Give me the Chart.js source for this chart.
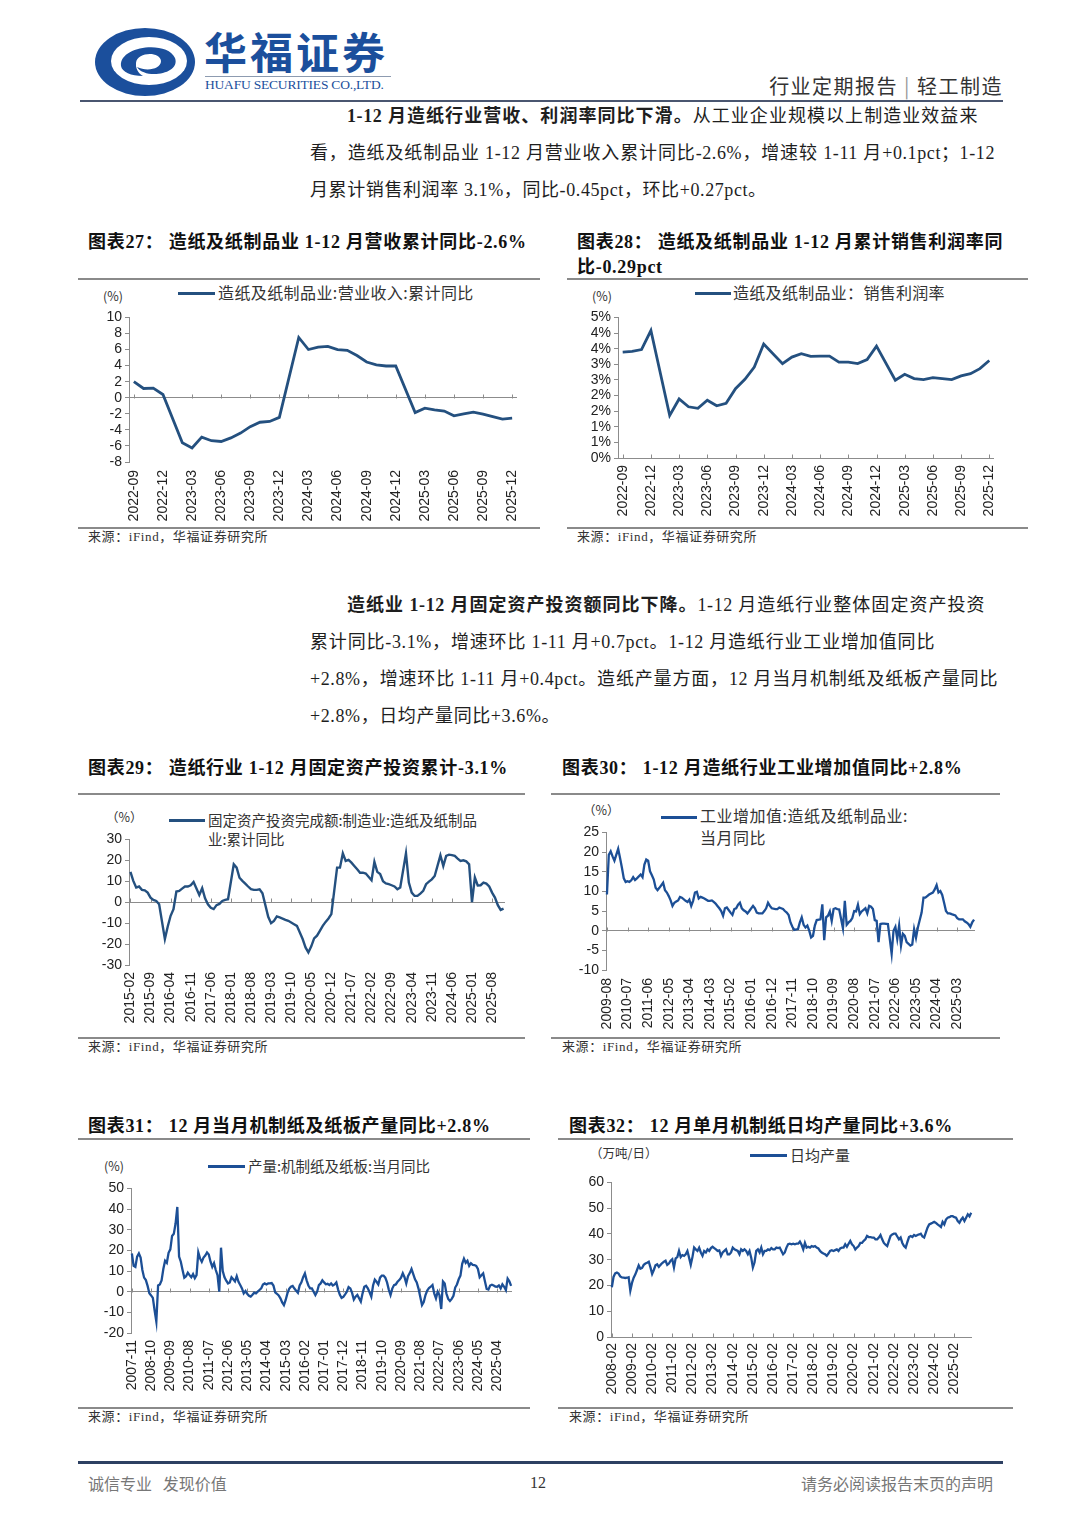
<!DOCTYPE html>
<html>
<head>
<meta charset="utf-8">
<script src="https://cdn.jsdelivr.net/npm/chart.js@4.4.1/dist/chart.umd.min.js"></script>
<style>
  html, body { margin: 0; padding: 0; background: #fff; }
  #page { position: relative; width: 1080px; height: 1527px; overflow: hidden; background: #fff;
          font-family: "Liberation Serif", "Noto Sans CJK SC", serif; color: #222; }
  .t { position: absolute; white-space: nowrap; }
  .para { position: absolute; font-size: 18px; line-height: 24px; letter-spacing: 0.6px; color: #1e1e1e; white-space: nowrap; }
  .just { text-align: justify; text-align-last: justify; white-space: normal; }
  .title { position: absolute; font-size: 18px; line-height: 24px; letter-spacing: 0.7px; font-weight: bold; color: #111; white-space: nowrap; }
  .rule { position: absolute; height: 1.5px; background: #8a8a8a; }
  .src { position: absolute; font-size: 13px; line-height: 16px; letter-spacing: 0.6px; color: #333; white-space: nowrap; }
  .leg { position: absolute; font-family: "Noto Sans CJK SC", sans-serif; font-size: 14.5px; line-height: 20px; color: #333; white-space: nowrap; }
  .unit { position: absolute; font-family: "Noto Sans CJK SC", sans-serif; font-size: 12.5px; line-height: 16px; color: #333; white-space: nowrap; }
  .swatch { position: absolute; height: 2.5px; }
  .box { position: absolute; }
</style>
</head>
<body>
<div id="page">
  <!-- header -->
  <svg class="box" style="left:93px;top:26px" width="106" height="72" viewBox="0 0 106 72">
    <ellipse cx="52" cy="36" rx="50" ry="34" fill="#1b4f9c"/>
    <ellipse cx="56" cy="35" rx="38" ry="24" fill="#fff"/>
    <path d="M28 40 C26 20 74 14 82 32 C88 48 52 54 44 41 C54 46 68 43 68 35 C67 25 44 26 43 37 C42 46 50 50 50 50 C38 50 29 46 28 40 Z" fill="#1b4f9c"/>
  </svg>
  <div class="t" style="left:204px;top:24px;font-family:'Noto Sans CJK SC';font-weight:bold;font-size:43px;line-height:52px;letter-spacing:3px;color:#1b4f9c;">华福证券</div>
  <div class="box" style="left:205px;top:76px;width:186px;height:1px;background:#8d9bb0;"></div>
  <div class="t" style="left:205px;top:78px;font-size:13.5px;line-height:14px;letter-spacing:-0.2px;color:#1b4f9c;">HUAFU SECURITIES CO.,LTD.</div>
  <div class="t" style="right:77px;top:72px;font-family:'Noto Sans CJK SC';font-size:20px;line-height:28px;letter-spacing:1.5px;color:#333;">行业定期报告 <span style="color:#999">|</span> 轻工制造</div>
  <div class="box" style="left:80px;top:100px;width:923px;height:2px;background:#4a5670;"></div>

  <!-- paragraph 1 -->
  <div class="para just" style="left:347px;top:104px;width:631px;"><b>1-12 月造纸行业营收、利润率同比下滑。</b>从工业企业规模以上制造业效益来</div>
  <div class="para just" style="left:310px;top:141px;width:685px;">看，造纸及纸制品业 1-12 月营业收入累计同比-2.6%，增速较 1-11 月+0.1pct；1-12</div>
  <div class="para" style="left:310px;top:178px;">月累计销售利润率 3.1%，同比-0.45pct，环比+0.27pct。</div>

  <!-- row 1 titles -->
  <div class="title" style="left:88px;top:230px;">图表27：&nbsp;造纸及纸制品业 1-12 月营收累计同比-2.6%</div>
  <div class="title" style="left:577px;top:230px;">图表28：&nbsp;造纸及纸制品业 1-12 月累计销售利润率同</div>
  <div class="title" style="left:577px;top:255px;">比-0.29pct</div>
  <div class="rule" style="left:78px;top:278px;width:462px;"></div>
  <div class="rule" style="left:567px;top:278px;width:461px;"></div>
  <div class="rule" style="left:78px;top:527px;width:462px;"></div>
  <div class="rule" style="left:567px;top:527px;width:461px;"></div>
  <div class="src" style="left:88px;top:529px;">来源：iFind，华福证券研究所</div>
  <div class="src" style="left:577px;top:529px;">来源：iFind，华福证券研究所</div>

  <div class="unit" style="left:103px;top:288px;">(%)</div>
  <div class="swatch" style="left:178px;top:292px;width:37px;background:#24507f;"></div>
  <div class="leg" style="left:218px;top:282px;font-size:16px;letter-spacing:0.4px;">造纸及纸制品业:营业收入:累计同比</div>
  <div class="unit" style="left:592px;top:288px;">(%)</div>
  <div class="swatch" style="left:695px;top:292px;width:36px;background:#24507f;"></div>
  <div class="leg" style="left:733px;top:282px;font-size:16px;letter-spacing:0.3px;">造纸及纸制品业：销售利润率</div>

  <div class="box" style="left:80px;top:306px;width:460px;height:220px;"><canvas id="c27"></canvas></div>
  <div class="box" style="left:565px;top:306px;width:465px;height:217px;"><canvas id="c28"></canvas></div>

  <!-- paragraph 2 -->
  <div class="para just" style="left:347px;top:593px;width:638px;"><b>造纸业 1-12 月固定资产投资额同比下降。</b>1-12 月造纸行业整体固定资产投资</div>
  <div class="para just" style="left:310px;top:630px;width:625px;">累计同比-3.1%，增速环比 1-11 月+0.7pct。1-12 月造纸行业工业增加值同比</div>
  <div class="para just" style="left:310px;top:667px;width:688px;">+2.8%，增速环比 1-11 月+0.4pct。造纸产量方面，12 月当月机制纸及纸板产量同比</div>
  <div class="para" style="left:310px;top:704px;">+2.8%，日均产量同比+3.6%。</div>

  <!-- row 2 -->
  <div class="title" style="left:88px;top:756px;">图表29：&nbsp;造纸行业 1-12 月固定资产投资累计-3.1%</div>
  <div class="title" style="left:562px;top:756px;">图表30：&nbsp;1-12 月造纸行业工业增加值同比+2.8%</div>
  <div class="rule" style="left:78px;top:793px;width:447px;"></div>
  <div class="rule" style="left:551px;top:793px;width:449px;"></div>
  <div class="rule" style="left:78px;top:1037px;width:447px;"></div>
  <div class="rule" style="left:551px;top:1037px;width:449px;"></div>
  <div class="src" style="left:88px;top:1039px;">来源：iFind，华福证券研究所</div>
  <div class="src" style="left:562px;top:1039px;">来源：iFind，华福证券研究所</div>

  <div class="unit" style="left:106px;top:809px;">（%）</div>
  <div class="swatch" style="left:169px;top:819px;width:36px;background:#24507f;"></div>
  <div class="leg" style="left:208px;top:810px;">固定资产投资完成额:制造业:造纸及纸制品</div>
  <div class="leg" style="left:208px;top:829px;">业:累计同比</div>
  <div class="unit" style="left:583px;top:802px;">（%）</div>
  <div class="swatch" style="left:661px;top:816px;width:36px;background:#1c4f96;"></div>
  <div class="leg" style="left:700px;top:805px;font-size:16px;letter-spacing:0.5px;">工业增加值:造纸及纸制品业:</div>
  <div class="leg" style="left:700px;top:827px;font-size:16px;letter-spacing:0.5px;">当月同比</div>

  <div class="box" style="left:80px;top:828px;width:445px;height:202px;"><canvas id="c29"></canvas></div>
  <div class="box" style="left:550px;top:821px;width:450px;height:214px;"><canvas id="c30"></canvas></div>

  <!-- row 3 -->
  <div class="title" style="left:88px;top:1114px;">图表31：&nbsp;12 月当月机制纸及纸板产量同比+2.8%</div>
  <div class="title" style="left:569px;top:1114px;">图表32：&nbsp;12 月单月机制纸日均产量同比+3.6%</div>
  <div class="rule" style="left:78px;top:1138px;width:452px;"></div>
  <div class="rule" style="left:558px;top:1138px;width:455px;"></div>
  <div class="rule" style="left:78px;top:1407px;width:452px;"></div>
  <div class="rule" style="left:558px;top:1407px;width:455px;"></div>
  <div class="src" style="left:88px;top:1409px;">来源：iFind，华福证券研究所</div>
  <div class="src" style="left:569px;top:1409px;">来源：iFind，华福证券研究所</div>

  <div class="unit" style="left:104px;top:1158px;">(%)</div>
  <div class="swatch" style="left:208px;top:1165px;width:37px;background:#1c4f96;"></div>
  <div class="leg" style="left:248px;top:1156px;">产量:机制纸及纸板:当月同比</div>
  <div class="unit" style="left:590px;top:1145px;">（万吨/日）</div>
  <div class="swatch" style="left:750px;top:1154px;width:37px;background:#1c4f96;"></div>
  <div class="leg" style="left:790px;top:1145px;font-size:15px;">日均产量</div>

  <div class="box" style="left:80px;top:1177px;width:450px;height:219px;"><canvas id="c31"></canvas></div>
  <div class="box" style="left:558px;top:1171px;width:455px;height:229px;"><canvas id="c32"></canvas></div>

  <!-- footer -->
  <div class="box" style="left:78px;top:1461px;width:925px;height:3px;background:#2d4062;"></div>
  <div class="t" style="left:88px;top:1472px;font-family:'Noto Sans CJK SC';font-size:16px;line-height:22px;color:#777;">诚信专业&nbsp;&nbsp;&nbsp;发现价值</div>
  <div class="t" style="left:530px;top:1473px;font-size:16px;line-height:20px;color:#333;">12</div>
  <div class="t" style="right:87px;top:1472px;font-family:'Noto Sans CJK SC';font-size:16px;line-height:22px;color:#777;">请务必阅读报告末页的声明</div>
</div>

<script>
// month categories
function monthRange(start, end) {
  var p = start.split("-").map(Number), q = end.split("-").map(Number);
  var y = p[0], m = p[1], out = [];
  while (y < q[0] || (y === q[0] && m <= q[1])) {
    out.push(y + "-" + String(m).padStart(2, "0"));
    m++;
    if (m > 12) { m = 1; y++; }
  }
  return out;
}

// 图表27 营业收入累计同比 (%), 2022-09 ~ 2025-12
var cats27 = monthRange("2022-09", "2025-12");
var revenueYoY = [
  2.0, 1.15, 1.2, 0.4,
  null, -5.6, -6.25, -4.9, -5.35, -5.45, -5.0, -4.4, -3.6, -3.05, -2.95, -2.45,
  null, 7.5, 6.0, 6.3, 6.4, 6.0, 5.9, 5.25, 4.45, 4.1, 3.95, 3.95,
  null, -1.85, -1.3, -1.5, -1.65, -2.25, -2.0, -1.8, -2.05, -2.35, -2.65, -2.55
];
var ticks27 = ["2022-09", "2022-12", "2023-03", "2023-06", "2023-09", "2023-12", "2024-03",
  "2024-06", "2024-09", "2024-12", "2025-03", "2025-06", "2025-09", "2025-12"];

// 图表28 销售利润率 (%)
var profitRate = [
  3.39, 3.41, 3.47, 4.08,
  null, 1.36, 1.89, 1.64, 1.59, 1.85, 1.67, 1.75, 2.22, 2.52, 2.91, 3.65,
  null, 3.02, 3.23, 3.34, 3.25, 3.26, 3.26, 3.07, 3.07, 3.02, 3.15, 3.58,
  null, 2.49, 2.68, 2.54, 2.51, 2.57, 2.54, 2.51, 2.63, 2.70, 2.86, 3.12
];

// 图表29 固定资产投资累计同比 (%), 2015-02 ~ 2025-12
var cats29 = monthRange("2015-02", "2025-12");
var faiYoY = [
  14.5, 10.2, 7.0, 7.5, 5.9, 5.7, 4.6, 2.2, 1.1, 0.6, -1.0,
  null, -17.6, -11.6, -6.5, -3.3, 5.1, 5.4, 6.5, 7.5, 7.5, 8.1, 9.7,
  null, 3.5, 6.7, 1.9, -1.0, -2.7, -3.3, -1.4, -0.8, 0.6, 1.1, 1.4,
  null, 18.1, 16.5, 11.7, 10.2, 8.9, 7.5, 6.2, 5.9, 5.9, 6.2, 4.3,
  null, -7.0, -10.0, -8.9, -6.8, -7.3, -7.8, -8.4, -8.9, -9.7, -10.5, -11.3,
  null, -17.6, -21.6, -24.0, -21.1, -17.3, -16.0, -13.7, -11.3, -9.4, -7.8, -5.7,
  null, 16.5, 16.5, 23.3, 19.7, 20.2, 18.9, 17.3, 15.7, 14.1, 14.1, 13.7,
  null, 10.5, 19.3, 14.5, 13.5, 10.0, 9.0, 8.6, 8.1, 7.5, 6.2, 7.0,
  null, 23.3, 9.4, 4.6, 3.0, 3.0, 4.1, 5.4, 8.6, 9.8, 10.9, 12.5,
  null, 22.4, 17.3, 22.1, 22.7, 22.5, 22.1, 20.8, 19.7, 20.0, 19.5, 18.1,
  0, 11.8, 8.0, 8.1, 9.4, 8.9, 7.5, 4.6, 2.2, -1.4, -3.7, -3.1
];
var ticks29 = ["2015-02", "2015-09", "2016-04", "2016-11", "2017-06", "2018-01", "2018-08",
  "2019-03", "2019-10", "2020-05", "2020-12", "2021-07", "2022-02", "2022-09", "2023-04",
  "2023-11", "2024-06", "2025-01", "2025-08"];

// 图表30 工业增加值当月同比 (%), 2009-08 ~ 2025-12
var cats30 = monthRange("2009-08", "2025-12");
var vaYoY = [
  9.2, 19.3, 20.2, 18.9, 17.8,
  null, 20.8, 18.5, 16.0, 13.3, 12.4, 12.6, 12.4, 12.8, 13.6, 12.9, 13.3,
  null, 14.3, 13.6, 16.8, 18.1, 17.8, 15.1, 14.1, 13.0, 10.9, 10.3, 10.9,
  null, 12.2, 10.3, 9.7, 8.8, 7.7, 6.3, 7.1, 7.4, 7.7, 8.6, 8.4,
  null, 7.6, 7.3, 7.9, 6.3, 7.6, 9.7, 9.9, 8.2, 8.6, 8.4, 8.2,
  null, 7.6, 7.6, 7.7, 7.3, 6.9, 6.3, 5.7, 5.0, 3.8, 5.7, 5.9,
  null, 4.6, 4.0, 5.5, 5.7, 6.6, 7.1, 5.7, 5.2, 4.9, 4.4, 5.0,
  null, 6.3, 5.7, 4.6, 4.4, 4.4, 4.4, 5.0, 5.7, 7.1, 6.3, 5.7,
  null, 5.5, 5.5, 5.9, 5.7, 5.5, 5.0, 4.6, 4.0, 2.1, 1.0, 0.2,
  null, 0.4, 2.1, 3.4, 1.5, 0.8, 1.3, 0.0, -1.7, -1.3, 1.3, 2.7,
  null, 2.9, 6.7, -2.4, 3.4, 3.8, 4.9, 2.5, 5.5, 5.7, 5.5, 5.4,
  null, 0.6, 7.6, 1.5, 2.1, 2.5, 3.2, 5.0, 4.9, 6.6, 4.2, 4.9,
  null, 5.7, 4.4, 6.3, 6.1, 5.5, 2.7, 2.5, -2.9, 1.7, 1.8, 1.8,
  null, 1.7, -2.1, -5.9, 0.0, 1.0, -2.1, 1.3, -3.8, -0.8, -1.3, -2.9,
  null, -3.8, -3.5, 0.4, -1.8, 0.8, 2.7, 4.6, 8.4, 8.4, 8.8, 9.2,
  null, 9.7, 10.5, 11.6, 9.7, 10.1, 9.1, 7.1, 5.0, 4.4, 4.4, 4.2,
  null, 3.9, 3.2, 2.9, 2.9, 2.9, 2.4, 2.1, 1.7, 1.0, 2.1, 2.8
];
var ticks30 = ["2009-08", "2010-07", "2011-06", "2012-05", "2013-04", "2014-03", "2015-02",
  "2016-01", "2016-12", "2017-11", "2018-10", "2019-09", "2020-08", "2021-07", "2022-06",
  "2023-05", "2024-04", "2025-03"];

// 图表31 机制纸及纸板产量当月同比 (%), 2007-11 ~ 2025-12
var cats31 = monthRange("2007-11", "2025-12");
var outputYoY = [
  18.5, 12.5,
  12.0, 17.0, 18.5, 16.5, 10.5, 6.8, 5.6, 2.8, -0.8, -1.8, -3.0, -9.0,
  -14.5, 3.0, 3.5, 5.5, 11.0, 15.0, 14.0, 18.8, 20.5, 27.0, 28.0, 33.0,
  41.0, 17.0, 14.5, 10.5, 6.8, 7.5, 9.2, 8.0, 7.0, 8.5, 6.5, 8.0,
  19.0, 16.1, 14.5, 16.5, 17.5, 19.0, 18.0, 14.5, 12.0, 13.8, 10.5, 8.0,
  0.0, 21.3, 10.0, 7.0, 5.3, 4.0, 4.5, 7.0, 6.0, 5.0, 7.5, 4.8,
  3.2, 1.6, -0.8, 0.3, -1.0, -2.0, -2.4, -1.5, -0.5, -0.8, 0.0, 0.8,
  1.6, 3.5, 4.0, 3.5, 4.0, 4.0, 4.2, 3.0, -0.3, -1.0, -1.8, -3.2,
  -5.2, -6.5, -4.0, -0.8, 1.4, 2.4, 2.8, 1.5, 0.5, -0.5, 3.0, 4.5,
  7.0, 8.8, 5.5, 3.0, 1.6, 1.6, 0.0, -1.6, 0.0, 3.2, 4.0, 5.5,
  4.5, 3.6, 3.8, 3.2, 4.0, 3.0, 3.5, 4.5, 1.0, -1.5, -3.0, -2.5,
  -1.3, 0.0, 2.2, 1.6, -0.6, -3.8, -2.4, -1.6, -3.2, -4.8, -0.8, 2.4,
  2.9, 1.6, -0.3, -2.4, 3.0, 5.8, 4.8, 3.5, 6.8, 7.8, 7.8, 6.8,
  4.5, 1.0, -1.6, 1.5, 3.2, 3.5, 4.8, 5.6, 6.8, 8.9, 7.0, 4.0,
  7.5, 9.0, 11.0, 8.5, 6.0, 4.5, 1.5, -2.5, -6.5, -5.0, -1.6, 0.5,
  1.8, 2.4, 3.2, -0.8, -3.2, 0.0, -1.6, -8.4, 5.0, 4.0, -1.0, -3.5,
  -4.5, -3.5, -2.0, 2.0, 3.5, 6.0, 7.8, 13.5, 16.0, 14.0, 15.0, 12.5,
  13.8, 13.0, 12.9, 12.5, 11.0, 7.0, 8.0, 8.9, 5.0, 1.3, 1.0, 3.0,
  3.4, 3.0, 2.5, 2.4, 3.0, 1.6, 3.6, 2.4, 0.8, 6.3, 5.0, 2.8
];
var ticks31 = ["2007-11", "2008-10", "2009-09", "2010-08", "2011-07", "2012-06", "2013-05",
  "2014-04", "2015-03", "2016-02", "2017-01", "2017-12", "2018-11", "2019-10", "2020-09",
  "2021-08", "2022-07", "2023-06", "2024-05", "2025-04"];

// 图表32 机制纸日均产量 (万吨/日), 2008-02 ~ 2025-12
var cats32 = monthRange("2008-02", "2025-12");
var dailyOutput = [
  19.3, 23.3, 24.7, 25.0, 24.6, 23.5, 23.1, 23.0, 22.9, 23.0, 23.2,
  18.0, 21.0, 23.0, 24.3, 26.0, 27.8, 26.5, 26.8, 28.0, 28.5, 28.8, 29.2,
  27.0, 24.5, 26.0, 27.8, 28.2, 27.2, 28.0, 28.7, 29.2, 29.6, 28.0, 28.5,
  29.6, 30.2, 27.0, 30.5, 31.0, 33.4, 31.0, 31.8, 31.5, 32.1, 33.4, 30.8,
  28.0, 31.0, 34.7, 34.0, 33.4, 34.7, 32.8, 31.5, 33.4, 32.8, 34.0, 33.4,
  34.5, 35.0, 34.5, 34.0, 33.4, 33.6, 31.5, 32.8, 33.4, 34.0, 32.1, 32.1,
  32.8, 34.7, 34.0, 33.7, 33.4, 32.1, 34.0, 33.4, 34.0, 33.4, 32.1, 33.4,
  30.8, 27.0, 29.0, 33.4, 34.0, 32.8, 34.7, 32.1, 33.4, 33.4, 34.0, 33.7,
  34.5, 34.0, 34.0, 34.7, 34.5, 34.7, 33.4, 32.1, 32.8, 34.7, 36.0, 36.2,
  36.0, 36.2, 36.0, 36.2, 36.2, 37.0, 35.8, 34.0, 36.5, 34.7, 35.0, 34.7,
  35.3, 35.0, 35.3, 34.7, 34.4, 33.4, 32.8, 32.4, 32.1, 31.5, 32.4, 33.4,
  33.7, 33.4, 33.7, 34.0, 33.4, 34.4, 34.7, 34.7, 36.0, 35.0, 36.2, 37.3,
  36.0, 35.3, 34.0, 34.7, 35.3, 36.5, 36.5, 37.3, 37.9, 39.2, 38.8, 38.8,
  38.6, 38.6, 37.9, 37.9, 38.6, 39.6, 37.9, 36.5, 35.8, 35.3, 37.3, 39.2,
  39.8, 40.1, 40.1, 39.0, 37.9, 38.6, 36.5, 35.3, 34.7, 36.8, 38.8, 39.2,
  38.8, 39.6, 39.2, 39.6, 39.8, 40.1, 39.0, 38.6, 40.5, 42.4, 43.7, 44.0,
  44.3, 44.7, 44.3, 43.7, 43.2, 42.7, 44.7, 43.7, 45.6, 46.3, 46.5, 46.9,
  46.9, 46.5, 46.3, 45.0, 44.3, 45.5, 46.3, 45.0, 46.3, 47.6, 46.8, 48.2
];
var ticks32 = ["2008-02", "2009-02", "2010-02", "2011-02", "2012-02", "2013-02", "2014-02",
  "2015-02", "2016-02", "2017-02", "2018-02", "2019-02", "2020-02", "2021-02", "2022-02",
  "2023-02", "2024-02", "2025-02"];

Chart.defaults.font.family = '"Liberation Sans", Arial, sans-serif';
Chart.defaults.font.size = 14;
Chart.defaults.color = "#222";

// small tick marks standing on the zero line at each labelled month
var zeroTicks = {
  id: "zeroTicks",
  beforeDatasetsDraw: function (chart, args, opts) {
    var xs = chart.scales.x, ys = chart.scales.y, ctx = chart.ctx;
    var y0 = Math.round(ys.getPixelForValue(0)) + 0.5;
    ctx.save();
    ctx.strokeStyle = "#8c8c8c";
    ctx.lineWidth = 1;
    opts.labels.forEach(function (lab) {
      var i = chart.data.labels.indexOf(lab);
      if (i < 0) return;
      var x = Math.round(xs.getPixelForValue(i)) + 0.5;
      ctx.beginPath();
      ctx.moveTo(x, y0);
      ctx.lineTo(x, y0 - 4);
      ctx.stroke();
    });
    ctx.restore();
  },
};

function lineChart(id, cats, values, shown, color, width, y, box) {
  return new Chart(document.getElementById(id), {
    type: "line",
    data: {
      labels: cats,
      datasets: [{
        data: values,
        borderColor: color,
        borderWidth: width,
        pointRadius: 0,
        spanGaps: true,
        tension: 0,
      }],
    },
    options: {
      responsive: true,
      maintainAspectRatio: false,
      animation: false,
      layout: { padding: { top: box.pt, right: box.pr, left: 0, bottom: 0 } },
      plugins: {
        legend: { display: false },
        tooltip: { enabled: false },
        zeroTicks: { labels: shown },
      },
      scales: {
        x: {
          offset: true,
          grid: { display: false, drawTicks: false },
          border: { display: false },
          ticks: {
            autoSkip: false,
            minRotation: 90,
            maxRotation: 90,
            padding: box.xp,
            callback: function (v) {
              var lab = this.getLabelForValue(v);
              return shown.indexOf(lab) >= 0 ? lab : null;
            },
          },
          afterFit: function (s) { s.height = box.xh; },
        },
        y: {
          min: y.min,
          max: y.max,
          ticks: {
            stepSize: y.step,
            autoSkip: false,
            padding: 3,
            callback: y.fmt || function (v) { return v; },
          },
          grid: {
            color: function (c) { return c.tick && c.tick.value === 0 ? "#8c8c8c" : "rgba(0,0,0,0)"; },
            tickColor: "#8c8c8c",
            tickLength: 4,
          },
          border: { display: true, color: "#8c8c8c" },
          afterFit: function (s) { s.width = box.yw; },
        },
      },
    },
    plugins: [zeroTicks],
  });
}

window.onload = function () {
  lineChart("c27", cats27, revenueYoY, ticks27, "#24507f", 2.8,
    { min: -8, max: 10, step: 2 },
    { pt: 10, pr: 23, yw: 49, xh: 64, xp: 8 });

  lineChart("c28", cats27, profitRate, ticks27, "#24507f", 2.8,
    { min: 0, max: 4.5, step: 0.5, fmt: function (v) { return Math.round(v) + "%"; } },
    { pt: 10, pr: 36, yw: 53, xh: 65, xp: 7 });

  lineChart("c29", cats29, faiYoY, ticks29, "#24507f", 2.4,
    { min: -30, max: 30, step: 10 },
    { pt: 10, pr: 20, yw: 49, xh: 65, xp: 7 });

  lineChart("c30", cats30, vaYoY, ticks30, "#1c4f96", 2.3,
    { min: -10, max: 25, step: 5 },
    { pt: 10, pr: 25, yw: 56, xh: 65, xp: 8 });

  lineChart("c31", cats31, outputYoY, ticks31, "#1c4f96", 2.3,
    { min: -20, max: 50, step: 10 },
    { pt: 10, pr: 18, yw: 51, xh: 63, xp: 7 });

  lineChart("c32", cats32, dailyOutput, ticks32, "#1c4f96", 2.3,
    { min: 0, max: 60, step: 10 },
    { pt: 10, pr: 41, yw: 53, xh: 63, xp: 6 });
};
</script>
</body>
</html>
